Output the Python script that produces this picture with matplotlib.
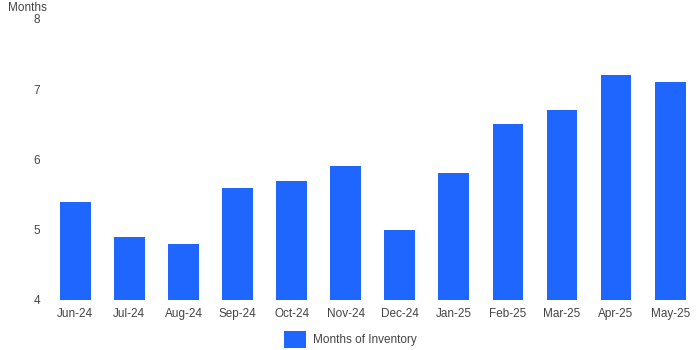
import matplotlib.pyplot as plt
import numpy as np

plt.rcParams["font.family"] = ["Liberation Sans", "DejaVu Sans"]

months = ["Jun-24", "Jul-24", "Aug-24", "Sep-24", "Oct-24", "Nov-24",
          "Dec-24", "Jan-25", "Feb-25", "Mar-25", "Apr-25", "May-25"]
inventory = [5.4, 4.9, 4.8, 5.6, 5.7, 5.9, 5.0, 5.8, 6.5, 6.7, 7.2, 7.1]
yticks = [4, 5, 6, 7, 8]

color = "#1f66ff"
text_color = "#444444"

fig = plt.figure(figsize=(7, 3.5), dpi=100)
ax = fig.add_axes([0.069, 0.143, 0.927, 0.803])

x = np.arange(len(months))
ax.bar(x, np.array(inventory) - 4, bottom=4, width=0.57, color=color,
       label="Months of Inventory")
ax.set_xlim(-0.5, len(months) - 0.5)
ax.set_ylim(4, 8)
ax.set_xticks(x)
ax.set_xticklabels(months)
ax.set_yticks(yticks)
ax.tick_params(axis="both", length=0, labelsize=8.5, colors=text_color)
ax.tick_params(axis="x", pad=6)
ax.tick_params(axis="y", pad=6)
for s in ax.spines.values():
    s.set_visible(False)

fig.text(0.012, 0.995, "Months", ha="left", va="top", fontsize=8.5, color=text_color)

leg = fig.legend(loc="lower center", bbox_to_anchor=(0.5, -0.025), frameon=False,
                 fontsize=8.5, handlelength=1.9, handleheight=1.9, handletextpad=0.55)
for t in leg.get_texts():
    t.set_color(text_color)

fig.savefig("out.png", dpi=100)
